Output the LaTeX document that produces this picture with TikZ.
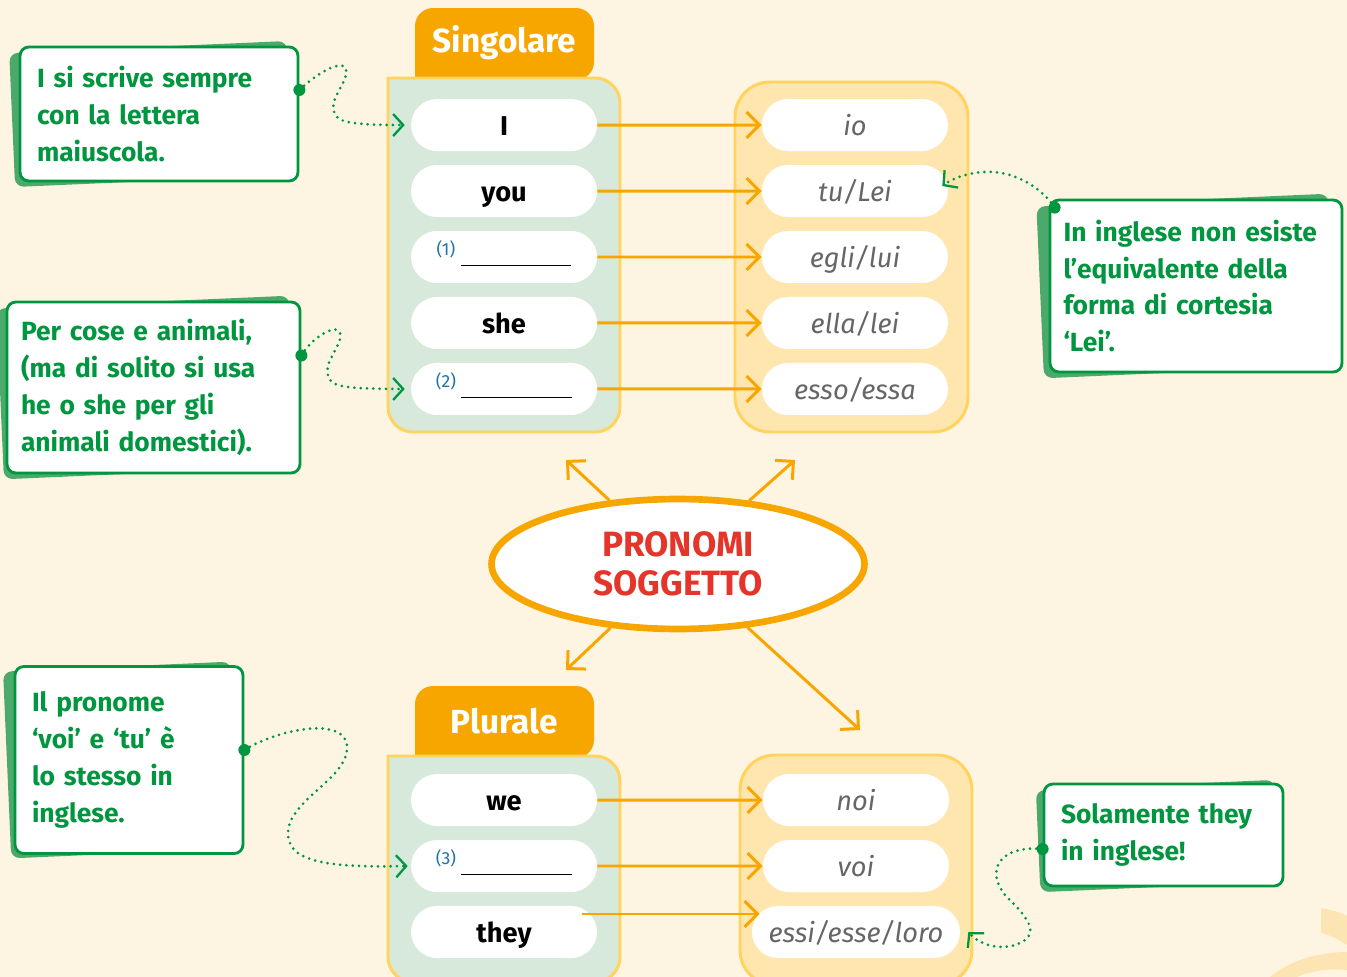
\documentclass[tikz,border=0pt]{standalone}
\usepackage{fontspec}
\setmainfont{Fira Sans}
\usepackage{tikz}
\usetikzlibrary{positioning, arrows.meta, calc, matrix, shapes.misc, shapes.geometric}
\hyphenpenalty=10000
\exhyphenpenalty=10000

\definecolor{crema}{HTML}{FDF5E1}
\definecolor{arancio}{HTML}{F7A600}
\definecolor{giallo}{HTML}{FFD35E}
\definecolor{verdino}{HTML}{D7E9DA}
\definecolor{pesca}{HTML}{FFE6AE}
\definecolor{verde}{HTML}{00953F}
\definecolor{ombra}{HTML}{4BAA6B}
\definecolor{rosso}{HTML}{E5352A}
\definecolor{grigio}{HTML}{666666}
\definecolor{blu}{HTML}{1C74A8}
\definecolor{decoro}{HTML}{FDE5B3}

\newcommand{\lacuna}[1]{\raisebox{7pt}{\fontsize{10}{10}\selectfont\mdseries\color{blu}(#1)}\hspace{3pt}\rule[1pt]{2.22cm}{0.6pt}}

\tikzset{
  pill/.style={rounded rectangle, fill=white, minimum width=3.72cm, minimum height=1.04cm, inner sep=0pt, text height=13pt, text depth=1pt},
  eng/.style={font=\fontsize{15.5}{18}\selectfont\bfseries},
  ita/.style={font=\fontsize{15.5}{18}\selectfont\itshape, text=grigio},
  freccia/.style={draw=arancio, line width=1.7pt, -{Straight Barb[length=2.6mm, width=5.2mm]}},
  nota/.style={draw=verde, line width=1.6pt, fill=white, rounded corners=5pt, align=left, text=verde, font=\fontsize{15}{21}\selectfont\bfseries, inner sep=0pt},
  ombranota/.style={fill=ombra, rounded corners=5pt, inner sep=0pt, rotate=2.5},
  puntini/.style={draw=verde, line width=1.7pt, dash pattern=on 0pt off 3.6pt, line cap=round, -{Straight Barb[length=2mm, width=4.4mm, line cap=butt, line width=1.3pt]}},
  titolo/.style={text=white, font=\fontsize{19}{22}\selectfont\bfseries}
}

\begin{document}
\begin{tikzpicture}[x=0.02cm, y=-0.02cm]
  \clip (0,0) rectangle (1347,977);
  \fill[crema] (0,0) rectangle (1347,977);

  % decoro in basso a destra
  \fill[decoro] (1321,908) .. controls (1333,910) and (1342,913) .. (1347,916) -- (1347,945) .. controls (1340,940) and (1330,935) .. (1321,933) -- cycle;
  \fill[decoro] (1270,977) .. controls (1290,960) and (1320,952) .. (1347,952) -- (1347,970) .. controls (1325,968) and (1308,972) .. (1297,977) -- cycle;

  % linguette
  \fill[arancio] (415,80) [rounded corners=0.36cm] -- (415,8) -- (594,8) -- (594,80) [sharp corners] -- cycle;
  \fill[arancio] (415,758) [rounded corners=0.36cm] -- (415,686) -- (594,686) -- (594,758) [sharp corners] -- cycle;
  \node[titolo] (tabSing) at (504.5,43) {Singolare};
  \node[titolo] (tabPlur) at (504.5,721) {Plurale};

  % riquadri
  \draw[giallo, line width=1.7pt, fill=verdino] (388,78) [rounded corners=0.5cm] -- (388,432) -- (620,432) -- (620,78) [sharp corners] -- cycle;
  \draw[giallo, line width=1.7pt, fill=pesca, rounded corners=0.7cm] (735,82) rectangle (968,432);
  \draw[giallo, line width=1.7pt, fill=verdino] (388,756) [rounded corners=0.5cm] -- (388,982) -- (620,982) -- (620,756) [sharp corners] -- cycle;
  \draw[giallo, line width=1.7pt, fill=pesca, rounded corners=0.7cm] (740,755) rectangle (972,985);

  \matrix (sing) [
      matrix of nodes,
      column 1/.style={nodes={pill, eng}},
      column 2/.style={nodes={pill, ita}},
      row sep=0.28cm,
      column sep=3.3cm,
      ampersand replacement=\&
    ] at (679.5,257) {
      I          \& io \\
      you        \& tu/Lei \\
      \lacuna{1} \& egli/lui \\
      she        \& ella/lei \\
      \lacuna{2} \& esso/essa \\
    };

  \matrix (plur) [
      matrix of nodes,
      column 1/.style={nodes={pill, eng}},
      column 2/.style={nodes={pill, ita}},
      row sep=0.28cm,
      column sep=3.1cm,
      ampersand replacement=\&
    ] at (685.5,866) {
      we         \& noi \\
      \lacuna{3} \& voi \\
      they       \& |[minimum width=4.16cm]| essi/esse/loro \\
    };

  % frecce singolare
  \draw[freccia] (sing-1-1) -- (sing-1-2);
  \draw[freccia] (sing-2-1) -- (sing-2-2);
  \draw[freccia] (sing-3-1) -- (sing-3-2);
  \draw[freccia] (sing-4-1) -- (sing-4-2);
  \draw[freccia] (sing-5-1) -- (sing-5-2);

  % frecce plurale
  \draw[freccia] (plur-1-1) -- (plur-1-2);
  \draw[freccia] (plur-2-1) -- (plur-2-2);
  \draw[freccia] ([shift={(-0.3cm,0.36cm)}]plur-3-1.east) -- ([shift={(0.16cm,0.36cm)}]plur-3-2.west);

  % ellisse centrale
  \node[ellipse, draw=arancio, line width=3.8pt, fill=white, minimum width=7.46cm, minimum height=2.6cm,
        text=rosso, align=center, font=\fontsize{20}{22}\selectfont\bfseries] (pron) at (678,564) {PRONOMI\\SOGGETTO};
  \coordinate (tipSingL) at (566,460);
  \coordinate (tipSingR) at (795,460);
  \coordinate (tipPlurL) at (566,670);
  \coordinate (tipPlurR) at (860,730);
  \draw[freccia] (pron) -- (tipSingL);
  \draw[freccia] (pron) -- (tipSingR);
  \draw[freccia] (pron) -- (tipPlurL);
  \draw[freccia] (pron) -- (tipPlurR);

  % note
  \node[ombranota, minimum width=5.56cm, minimum height=2.68cm] at (151,114) {};
  \node[nota, minimum width=5.56cm, minimum height=2.68cm, text width=4.88cm] (noteI) at (159,114)
    {I si scrive sempre\\con la lettera\\maiuscola.};
  \node[ombranota, minimum width=5.86cm, minimum height=3.42cm] at (146.5,387.5) {};
  \node[nota, minimum width=5.86cm, minimum height=3.42cm, text width=5.3cm] (noteCose) at (153.5,387.5)
    {Per cose e animali,\\(ma di solito si usa\\he o she per gli\\animali domestici).};
  \node[ombranota, minimum width=5.84cm, minimum height=3.44cm] at (1186,286) {};
  \node[nota, minimum width=5.84cm, minimum height=3.44cm, text width=5.3cm] (noteLei) at (1196,286)
    {In inglese non esiste\\l’equivalente della\\forma di cortesia\\‘Lei’.};
  \node[ombranota, minimum width=4.56cm, minimum height=3.74cm] at (121,760) {};
  \node[nota, minimum width=4.56cm, minimum height=3.74cm, text width=3.88cm] (noteVoi) at (129,760)
    {Il pronome\\‘voi’ e ‘tu’ è\\lo stesso in\\inglese.};
  \node[ombranota, minimum width=4.78cm, minimum height=2.04cm] at (1157.5,836) {};
  \node[nota, minimum width=4.78cm, minimum height=2.04cm, text width=4.1cm] (noteThey) at (1163.5,835)
    {Solamente they\\in inglese!};

  % collegamenti tratteggiati
  \coordinate (dotI) at ([yshift=0.48cm]noteI.east);
  \coordinate (dotCose) at ([yshift=0.64cm]noteCose.east);
  \coordinate (dotLei) at ([shift={(0.12cm,-0.18cm)}]noteLei.north west);
  \coordinate (dotVoi) at ([yshift=0.2cm]noteVoi.east);
  \coordinate (dotThey) at ([yshift=-0.28cm]noteThey.west);
  \foreach \d in {dotI, dotCose, dotLei, dotVoi, dotThey}
    \fill[verde] (\d) circle (0.12cm);

  \draw[puntini] (dotI) .. controls (320,70) and (350,55) .. (346,75)
    .. controls (342,90) and (325,105) .. (338,118)
    .. controls (345,124) and (370,125) .. ([xshift=-0.12cm]sing-1-1.west);
  \draw[puntini] (dotCose) .. controls (314,334) and (344,319) .. (340,339)
    .. controls (336,354) and (319,369) .. (332,382)
    .. controls (339,388) and (364,389) .. ([xshift=-0.12cm]sing-5-1.west);
  \draw[puntini] (dotLei) .. controls (1040,185) and (1010,170) .. (985,172)
    .. controls (965,173) and (950,180) .. ([shift={(-0.12cm,0.1cm)}]sing-2-2.east);
  \draw[puntini] (dotVoi) .. controls (280,728) and (350,715) .. (347,750)
    .. controls (344,780) and (290,800) .. (288,832)
    .. controls (287,860) and (320,868) .. ([xshift=-0.06cm]plur-2-1.west);
  \draw[puntini] (dotThey) .. controls (1000,845) and (985,870) .. (1005,895)
    .. controls (1025,915) and (1045,935) .. (1015,945)
    .. controls (1000,950) and (980,945) .. ([xshift=0.16cm]plur-3-2.east);
\end{tikzpicture}
\end{document}
